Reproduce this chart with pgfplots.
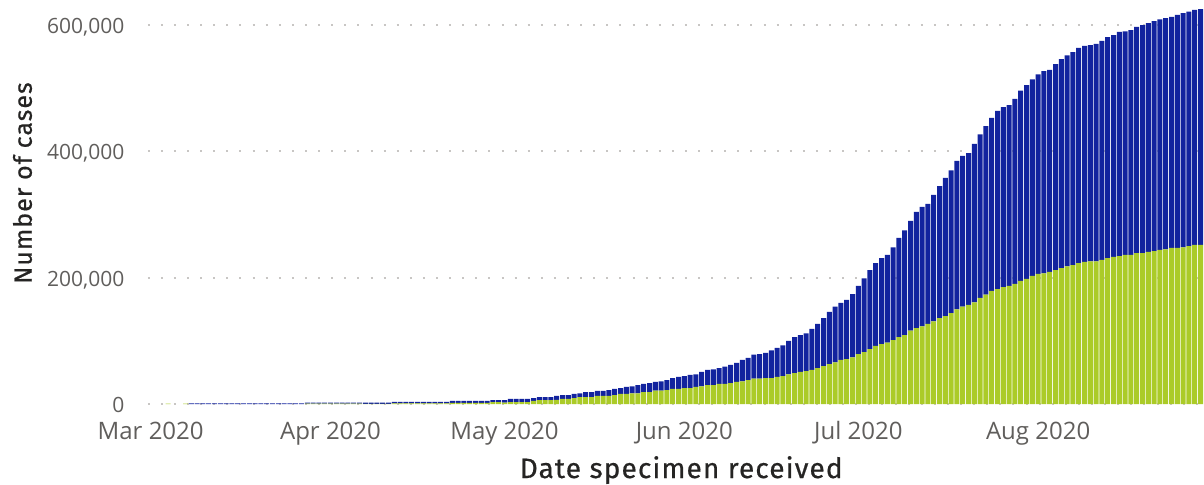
\documentclass[border=0pt]{standalone}
\usepackage{fontspec}
\setmainfont{Open Sans}
\newfontfamily\titlefont{Fira Sans}[LetterSpace=4,FakeBold=0.6]
\usepackage{pgfplots}
\usepackage{pgfplotstable}
\pgfplotsset{compat=1.18}
\definecolor{pbgreen}{HTML}{ABCB28}
\definecolor{pbblue}{HTML}{12239E}
\definecolor{ticktext}{HTML}{605E5C}
\definecolor{titletext}{HTML}{252423}
\definecolor{gridc}{HTML}{C8C6C4}

\pgfplotstableread{
d g b
0 0 0
1 0 0
2 0 0
3 800 0
4 0 0
5 0 0
6 800 0
7 0 1000
8 0 1000
9 0 1000
10 0 1000
11 0 1000
12 0 1000
13 0 1000
14 0 1000
15 0 1000
16 0 1000
17 0 1000
18 0 1000
19 0 1000
20 0 1000
21 0 1000
22 0 1000
23 0 1000
24 0 1000
25 0 1000
26 0 1000
27 800 1200
28 800 1200
29 800 1200
30 800 1200
31 800 1200
32 800 1200
33 800 1200
34 800 1200
35 800 1200
36 800 1200
37 300 1700
38 300 1700
39 300 1700
40 300 1700
41 300 1700
42 1000 2200
43 1000 2200
44 1000 2200
45 1000 2200
46 1000 2200
47 1000 2200
48 1000 2200
49 1000 2200
50 1000 2200
51 1000 2200
52 1600 3400
53 1600 3400
54 1600 3400
55 1600 3400
56 1600 3400
57 1600 3400
58 1600 3400
59 3000 3000
60 3000 3000
61 2000 4000
62 3000 5000
63 3000 5000
64 3000 5000
65 3000 5000
66 5000 4500
67 6000 5000
68 6000 5000
69 6000 5000
70 6500 6200
71 8000 6000
72 8000 6000
73 9500 6500
74 11000 6000
75 11000 8000
76 11000 8000
77 12700 7900
78 12700 7900
79 12700 9300
80 14000 10000
81 16000 9000
82 16000 11000
83 17000 11000
84 17000 13000
85 19000 13000
86 19000 14000
87 21000 14000
88 21000 15000
89 22000 16000
90 24000 17000
91 24000 19000
92 25000 19000
93 25000 21000
94 27000 20000
95 28000 23000
96 30000 24000
97 30000 25000
98 32000 25000
99 32000 27000
100 33000 29000
101 35000 30000
102 36000 34000
103 38000 35000
104 40000 38000
105 40000 39000
106 41000 40000
107 41000 44000
108 43000 46000
109 44000 49000
110 47000 53000
111 49000 57000
112 51000 58000
113 52000 60000
114 54000 65000
115 57000 70000
116 60000 76000
117 63000 83000
118 66000 88000
119 70000 90000
120 71000 94000
121 74000 100000
122 79000 108000
123 82000 117000
124 87000 125000
125 92000 131000
126 95000 136000
127 97000 139000
128 101000 147000
129 106000 157000
130 109000 166000
131 116000 174000
132 120000 184000
133 123000 189000
134 127000 190000
135 131000 200000
136 136000 209000
137 139000 219000
138 144000 226000
139 150000 235000
140 154000 239000
141 157000 240000
142 161000 251000
143 168000 259000
144 173000 267000
145 179000 274000
146 182000 282000
147 185000 285000
148 187000 286000
149 190000 293000
150 195000 301000
151 198000 307000
152 203000 311000
153 206000 316000
154 207000 320000
155 209000 320000
156 212000 326000
157 215000 331000
158 218000 334000
159 220000 337000
160 223000 341000
161 225000 342000
162 226000 342000
163 226000 344000
164 228000 347000
165 231000 350000
166 233000 351000
167 234000 355000
168 236000 354000
169 236000 356000
170 239000 358000
171 239000 361000
172 241000 362000
173 242000 364000
174 244000 365000
175 245000 366000
176 247000 366000
177 247000 369000
178 248000 371000
179 250000 371000
180 252000 372000
181 252000 373000
}\cases

\begin{document}
\begin{tikzpicture}
\begin{axis}[
  name=ax,
  scale only axis,
  width=528.1pt, height=199.5pt,
  xmin=-0.5, xmax=181.6, ymin=0, ymax=631662,
  scaled y ticks=false,
  ybar stacked, bar width=0.86,
  axis line style={draw=none},
  major tick length=0pt,
  xtick={0,31,61,92,122,153},
  xticklabels={Mar 2020,Apr 2020,May 2020,Jun 2020,Jul 2020,Aug 2020},
  ytick={0,200000,400000,600000},
  yticklabels={0,{200,000},{400,000},{600,000}},
  xticklabel style={font=\fontsize{12}{14}\selectfont, text=ticktext, anchor=base, yshift=-17.5pt, inner sep=0pt},
  yticklabel style={font=\fontsize{10.5}{12}\selectfont, text=ticktext, anchor=base east, xshift=-11.5pt, yshift=-4.2pt, inner sep=0pt},
  ymajorgrids,
  grid style={gridc, line width=1pt, dash pattern=on 1pt off 5.55pt},
  xlabel={Date specimen received},
  ylabel={Number of cases},
  xlabel style={font=\titlefont\fontsize{14}{16}\selectfont, text=titletext, at={(axis description cs:0.505,-0.1855)}, anchor=base, inner sep=0pt},
  ylabel style={font=\titlefont\fontsize{12.5}{15}\selectfont, text=titletext, at={(axis description cs:-0.1099,0.5539)}, anchor=base, inner sep=0pt},
]
\addplot[fill=pbgreen, draw=none] table[x=d, y=g] {\cases};
\addplot[fill=pbblue, draw=none] table[x=d, y=b] {\cases};
\end{axis}
\pgfresetboundingbox
\path (ax.south west) ++(-73.9pt,-40pt) rectangle ++(602pt,242pt);
\end{tikzpicture}
\end{document}
